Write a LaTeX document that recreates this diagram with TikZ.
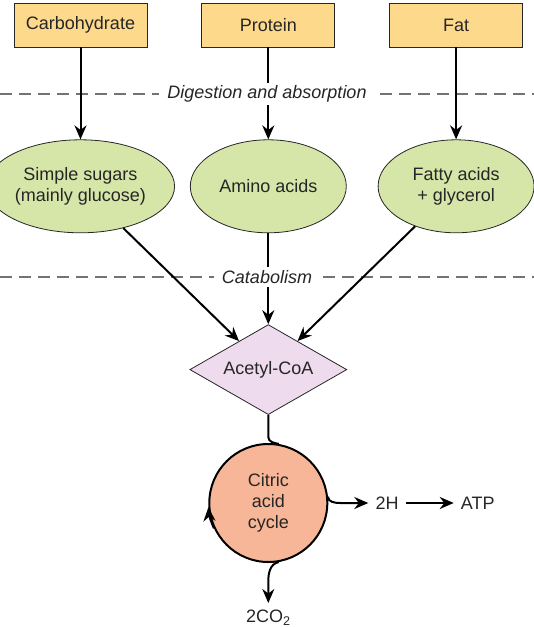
\documentclass[tikz,border=0pt]{standalone}
\usepackage{fontspec}
\setmainfont{Liberation Sans}
\usepackage{xcolor}
\usepackage{tikz}
\usetikzlibrary{arrows.meta, shapes.geometric, positioning, calc}
\definecolor{foodorange}{HTML}{FDD98C}
\definecolor{monogreen}{HTML}{D6E5A8}
\definecolor{acetylpink}{HTML}{EFDBEE}
\definecolor{cyclesalmon}{HTML}{F8B698}
\definecolor{inkgray}{HTML}{262626}

\begin{document}
\begin{tikzpicture}[
  x=1pt, y=1pt,
  font=\fontsize{18}{21}\selectfont,
  box/.style={rectangle, draw=inkgray, line width=0.8pt, fill=foodorange,
              minimum width=133pt, minimum height=44pt, text=inkgray},
  mono/.style={ellipse, draw=inkgray, line width=0.8pt, fill=monogreen,
               minimum width=156pt, minimum height=93pt, align=center,
               inner sep=1pt, text=inkgray},
  hub/.style={diamond, aspect=1.75, draw=inkgray, line width=0.8pt, fill=acetylpink,
              minimum width=157pt, minimum height=90pt, inner sep=0pt, text=inkgray},
  wheel/.style={circle, draw=black, line width=2pt, fill=cyclesalmon,
                minimum size=118pt, align=center, inner sep=0pt, text=inkgray},
  lbl/.style={inner sep=7pt, text=inkgray},
  stage/.style={fill=white, inner xsep=8pt, inner ysep=3pt, text=inkgray,
                font=\fontsize{18}{21}\selectfont\itshape},
  divider/.style={draw=black!55, line width=1.3pt, dash pattern=on 12pt off 7pt},
  arr/.style={-{Stealth[length=14pt, width=12pt]}, line width=2pt, color=black}
]
  \useasboundingbox (0,0) rectangle (534,-627);

  \node[box]   (carb)   at (80.5,-25)         {Carbohydrate};
  \node[box]   (prot)   [right=54pt of carb]  {Protein};
  \node[box]   (fat)    [right=54pt of prot]  {Fat};

  \node[mono]  (sugars) [below=92pt of carb]  {Simple sugars\\(mainly glucose)};
  \node[mono]  (amino)  [below=92pt of prot]  {Amino acids};
  \node[mono]  (fatty)  [below=92pt of fat]   {Fatty acids\\+ glycerol};

  \node[hub]   (acetyl) [below=91pt of amino] {Acetyl-CoA};
  \node[wheel] (cycle)  [below=28pt of acetyl] {Citric\\acid\\cycle};

  \node[lbl]   (htwo)   [right=40pt of cycle] {2H};
  \node[lbl]   (atp)    [right=48pt of htwo]  {ATP};
  \node[lbl]   (co2)    [below=40pt of cycle] {2CO\textsubscript{2}};

  \draw[divider] (0,-94) -- (534,-94);
  \draw[divider] (0,-277) -- (534,-277);

  \draw[arr] (carb)   -- (sugars);
  \draw[arr] (prot)   -- (amino);
  \draw[arr] (fat)    -- (fatty);
  \draw[arr] (sugars) -- (acetyl);
  \draw[arr] (amino)  -- (acetyl);
  \draw[arr] (fatty)  -- (acetyl);

  \node[stage] (digest) at (267,-94)  {Digestion and absorption};
  \node[stage] (catab)  at (267,-277) {Catabolism};

  \draw[line width=2pt] (acetyl.south) -- ++(0,-22) to[out=-90, in=170] (cycle.80);
  \draw[arr] (cycle.205) arc[start angle=205, end angle=184, radius=60pt];
  \draw[arr] (cycle.6) to[out=-90, in=180] ([xshift=-28pt]htwo.west) -- (htwo.west);
  \draw[arr] (htwo) -- (atp);
  \draw[arr] (cycle.-80) to[out=-170, in=90] ([yshift=22pt]co2.north) -- (co2.north);
\end{tikzpicture}
\end{document}
